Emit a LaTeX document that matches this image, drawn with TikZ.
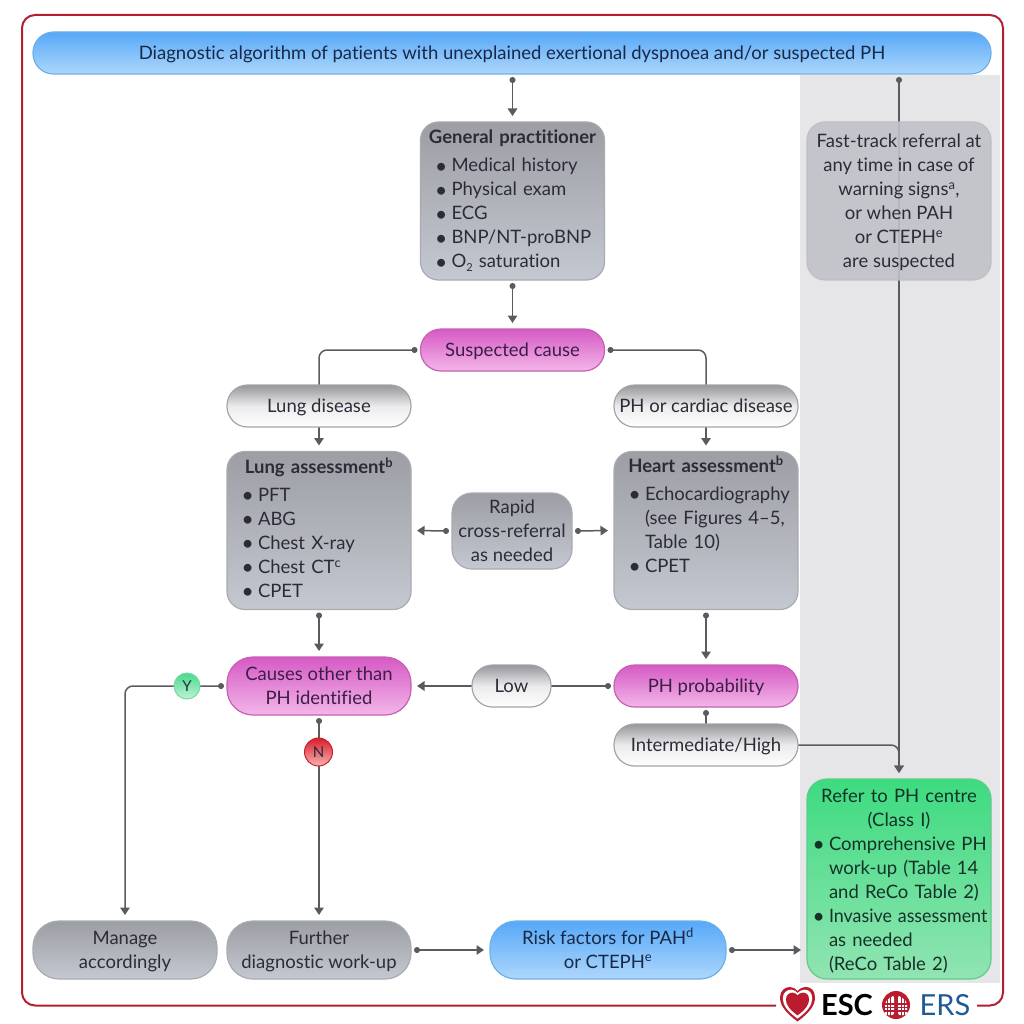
\documentclass[tikz,border=0pt]{standalone}
\usepackage{fontspec}
\usepackage{graphicx}
\setmainfont{Lato}[Ligatures={NoCommon,TeX}]
\usetikzlibrary{arrows.meta}
\pgfdeclarelayer{panel}
\pgfdeclarelayer{lines}
\pgfsetlayers{panel,lines,main}
\definecolor{txt}{HTML}{2C2C38}
\definecolor{linec}{HTML}{5A5B60}
\definecolor{framec}{HTML}{B21F33}
\definecolor{panelc}{HTML}{E6E6E8}
\newcommand{\bigbul}{\raisebox{-1.2pt}{\fontsize{21}{21}\selectfont\textbullet}}
\newcommand{\bul}{\hspace*{-1.5pt}\makebox[16.5pt][l]{\bigbul}}
\newcommand{\ind}{\hspace*{15pt}}
\newcommand{\sups}[1]{\smash{\textsuperscript{#1}}}
\newcommand{\subtwo}{\smash{\raisebox{-4pt}{\fontsize{11}{11}\selectfont 2}}}
\newcommand{\headline}[1]{\makebox[184pt][c]{\bfseries #1}\\[4pt]}
\tikzset{
  box/.style={rectangle,draw,line width=1.2pt,inner sep=0pt,outer sep=3pt,align=center,text=txt,
    font=\fontsize{18.5}{24}\selectfont,minimum width=184pt,rounded corners=20pt},
  pill/.style={minimum height=42pt,rounded corners=20.5pt,text height=18pt,text depth=5pt},
  pilltall/.style={minimum height=58pt,rounded corners=26pt},
  listbox/.style={text width=#1,align=left,minimum height=158pt,rounded corners=18pt},
  grey/.style={top color={rgb,255:red,156;green,158;blue,164},bottom color={rgb,255:red,196;green,200;blue,208},draw={rgb,255:red,168;green,171;blue,176}},
  pale/.style={top color={rgb,255:red,150;green,150;blue,155},bottom color=white,middle color={rgb,255:red,235;green,235;blue,237},draw={rgb,255:red,165;green,165;blue,168}},
  magenta/.style={top color={rgb,255:red,214;green,90;blue,196},bottom color={rgb,255:red,243;green,182;blue,233},draw={rgb,255:red,198;green,96;blue,176},text={rgb,255:red,60;green,30;blue,70}},
  bluebox/.style={top color={rgb,255:red,86;green,168;blue,248},bottom color={rgb,255:red,174;green,215;blue,251},draw={rgb,255:red,108;green,176;blue,232},text={rgb,255:red,24;green,40;blue,70}},
  greenbox/.style={top color={rgb,255:red,61;green,219;blue,128},bottom color={rgb,255:red,145;green,228;blue,178},draw={rgb,255:red,95;green,203;blue,138},text={rgb,255:red,20;green,50;blue,40}},
  badge/.style={circle,line width=1pt,inner sep=0pt,minimum size=26pt,font=\fontsize{15}{15}\selectfont,text=txt},
  conn/.style={draw=linec,line width=1.5pt,rounded corners=8pt},
  dot/.style={{Circle[length=6pt,fill=linec]}-},
  tip/.style={-{Triangle[length=7.5pt,width=9.5pt,fill=linec]},shorten >=3pt},
  dottip/.style={{Circle[length=6pt,fill=linec]}-{Triangle[length=7.5pt,width=9.5pt,fill=linec]},shorten >=3pt},
  touchend/.style={shorten >=-3pt},
  touchstart/.style={shorten <=-3pt},
}
\begin{document}
\begin{tikzpicture}[x=1pt,y=-1pt]
\useasboundingbox (0,0) rectangle (1024,1024);
\begin{pgfonlayer}{panel}
  \fill[panelc] (800,75) rectangle (1000,983);
  \draw[framec,line width=2pt,rounded corners=13pt] (776,1005.5) -- (22,1005.5) -- (22,15) -- (1003,15) -- (1003,1005.5) -- (977,1005.5);
\end{pgfonlayer}

\node[box,bluebox,pill,minimum width=958pt,text height=19pt] (title) at (512,53) {Diagnostic algorithm of patients with unexplained exertional dyspnoea and/or suspected PH};

\node[box,grey,listbox=184pt] (gp) at (512.5,201) {\headline{General practitioner}
  \hspace*{16pt}\bul Medical history\\
  \hspace*{16pt}\bul Physical exam\\
  \hspace*{16pt}\bul ECG\\
  \hspace*{16pt}\bul BNP/NT-proBNP\\
  \hspace*{16pt}\bul O\subtwo{} saturation\rule[-4pt]{0pt}{0pt}};

\node[box,magenta,pill] (cause) at (512.5,350) {Suspected cause};
\node[box,pale,pill] (lungd) at (319,406) {Lung disease};
\node[box,pale,pill] (heartd) at (706,406) {PH or cardiac disease};

\node[box,grey,listbox=184pt] (lunga) at (319,530.5) {\headline{Lung assessment\sups{b}}
  \hspace*{16pt}\bul PFT\\
  \hspace*{16pt}\bul ABG\\
  \hspace*{16pt}\bul Chest X-ray\\
  \hspace*{16pt}\bul Chest CT\sups{c}\\
  \hspace*{16pt}\bul CPET\rule[-3pt]{0pt}{0pt}};

\node[box,grey,minimum width=120pt,minimum height=76pt] (rapid) at (512,531) {Rapid\\cross-referral\\as needed};

\node[box,grey,listbox=184pt] (hearta) at (706,530.5) {\headline{Heart assessment\sups{b}}
  \hspace*{16pt}\bul Echocardiography\\
  \hspace*{16pt}\ind (see Figures 4--5,\\
  \hspace*{16pt}\ind Table 10)\\
  \hspace*{16pt}\bul CPET\\
  \rule[-6pt]{0pt}{0pt}};

\node[box,magenta,pilltall] (causes) at (319,686) {Causes other than\\PH identified};
\node[box,magenta,pill] (prob) at (706,686) {PH probability};
\node[box,pale,pill,minimum width=79pt] (low) at (511.5,686) {Low};
\node[box,pale,pill] (inter) at (706,745) {Intermediate/High};

\node[box,draw={rgb,255:red,188;green,190;blue,195},fill={rgb,255:red,192;green,194;blue,199},fill opacity=0.9,draw opacity=0.9,text opacity=1,minimum height=158pt,rounded corners=18pt] (fast) at (899,201) {\rule{0pt}{16pt}Fast-track referral at\\any time in case of\\warning signs\sups{a},\\or when PAH\\or CTEPH\sups{e}\\are suspected};

\node[box,greenbox,text width=184pt,align=left,minimum height=200pt,rounded corners=20pt] (refer) at (899,879) {\rule{0pt}{17pt}\makebox[184pt][c]{Refer to PH centre}\\
  \makebox[184pt][c]{(Class I)}\\
  \hspace*{5.5pt}\makebox[16.5pt][l]{\bigbul}Comprehensive PH\\
  \hspace*{22pt}work-up (Table 14\\
  \hspace*{22pt}and ReCo Table 2)\\
  \hspace*{5.5pt}\makebox[16.5pt][l]{\bigbul}\scalebox{0.965}[1]{Invasive assessment}\\
  \hspace*{22pt}as needed\\
  \hspace*{22pt}(ReCo Table 2)};

\node[box,grey,pilltall] (manage) at (125,950) {\rule{0pt}{17pt}Manage\\accordingly};
\node[box,grey,pilltall] (further) at (319,950) {\rule{0pt}{17pt}Further\\diagnostic work-up};
\node[box,bluebox,pilltall,minimum width=236pt] (risk) at (608,950) {\rule{0pt}{17pt}Risk factors for PAH\sups{d}\\or CTEPH\sups{e}\rule[-5pt]{0pt}{0pt}};

\node[badge,top color={rgb,255:red,72;green,218;blue,140},bottom color={rgb,255:red,190;green,243;blue,212},draw={rgb,255:red,120;green,217;blue,162}] (yes) at (187,686) {Y};
\node[badge,minimum size=28pt,top color={rgb,255:red,216;green,30;blue,42},bottom color={rgb,255:red,246;green,178;blue,178},draw={rgb,255:red,200;green,32;blue,42}] (no) at (318.5,752) {N};

\begin{pgfonlayer}{lines}
  \draw[conn,dottip] (title.south -| gp.north) -- (gp.north);
  \draw[conn,dottip] (gp.south) -- (cause.north);
  \draw[conn,dot,touchend] (cause.west) -| (lungd.north);
  \draw[conn,dot,touchend] (cause.east) -| (heartd.north);
  \draw[conn,tip,touchstart] (lungd.south) -- (lunga.north);
  \draw[conn,tip,touchstart] (heartd.south) -- (hearta.north);
  \draw[conn,dottip] (rapid.west) -- (lunga.east);
  \draw[conn,dottip] (rapid.east) -- (hearta.west);
  \draw[conn,dottip] (lunga.south) -- (causes.north);
  \draw[conn,dottip] (hearta.south) -- (prob.north);
  \draw[conn,dot,touchend] (prob.west) -- (low.east);
  \draw[conn,tip,touchstart] (low.west) -- (causes.east);
  \draw[conn,dot,touchend] (prob.south) -- (inter.north);
  \draw[conn,dottip] (title.south -| refer.north) -- (refer.north);
  \draw[conn,tip,touchstart] (inter.east) -| (refer.north);
  \draw[conn,dottip] (causes.west) -| (manage.north);
  \draw[conn,dottip] (causes.south) -- (further.north);
  \draw[conn,dottip] (further.east) -- (risk.west);
  \draw[conn,dottip] (risk.east) -- (risk.east -| refer.west);
\end{pgfonlayer}

% logo
\def\heartshape{(0,18) .. controls (-12,9) and (-17.5,2) .. (-17.5,-6) .. controls (-17.5,-13) and (-12.5,-16.5) .. (-7.5,-16.5) .. controls (-4.5,-16.5) and (-1.5,-14.5) .. (0,-12.5) .. controls (1.5,-14.5) and (5,-16.5) .. (8.5,-16.5) .. controls (13.5,-16.5) and (17.5,-13) .. (17.5,-6) .. controls (17.5,2) and (12,9) .. (0,18) -- cycle}
\begin{scope}[shift={(797.5,1003.5)}]
  \fill[framec!90!red] \heartshape;
  \begin{scope}[scale=0.84] \fill[white] \heartshape; \end{scope}
  \begin{scope}[scale=0.66] \fill[framec!90!red] \heartshape; \end{scope}
\end{scope}
\node[inner sep=0pt,font=\fontsize{29}{29}\bfseries\selectfont,text=black] (esc) at (847,1005) {ESC};
\fill[framec!90!red] (896,1005) circle (14);
\fill[white,rounded corners=2pt] (885,1002) -- (892,996) -- (894,996) -- (894,1015) -- (885,1015) -- cycle;
\fill[white,rounded corners=2pt] (907,1002) -- (900,996) -- (898,996) -- (898,1015) -- (907,1015) -- cycle;
\draw[framec,line width=1.1pt] (884,1004) -- (908,1004) (884,1007.5) -- (908,1007.5) (884,1011) -- (908,1011) (887.5,996) -- (887.5,1016) (890.5,996) -- (890.5,1016) (901.5,996) -- (901.5,1016) (904.5,996) -- (904.5,1016);
\node[inner sep=0pt,font=\fontsize{29}{29}\selectfont,text={rgb,255:red,30;green,90;blue,150}] (ers) at (945,1005) {ERS};
\end{tikzpicture}
\end{document}
